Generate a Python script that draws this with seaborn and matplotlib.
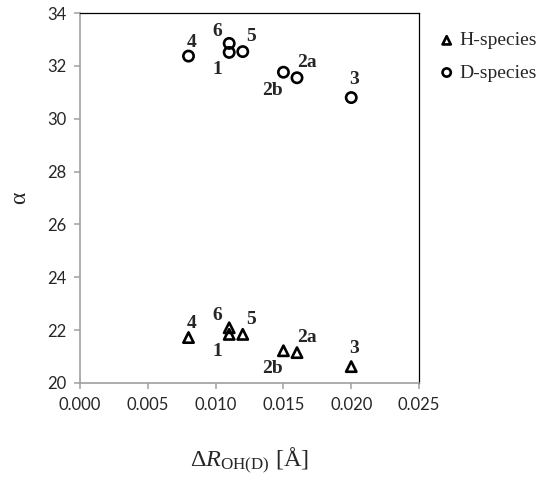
import seaborn as sns
import matplotlib.pyplot as plt
import pandas as pd

# structures, labels and positions
labels = ['4', '6', '1', '5', '2b', '2a', '3']
dR = [0.008, 0.011, 0.011, 0.012, 0.015, 0.016, 0.020]
alpha_H = [21.72, 22.09, 21.84, 21.84, 21.22, 21.15, 20.62]
alpha_D = [32.37, 32.85, 32.51, 32.54, 31.76, 31.55, 30.80]

# label offsets in pixels (dx, dy) relative to the marker
offsets = {'4': (3, 14), '6': (-12, 12), '1': (-12, -17), '5': (8, 15),
           '2b': (-11, -18), '2a': (10, 15), '3': (3, 18)}

df = pd.DataFrame({
    'dR': dR * 2,
    'alpha': alpha_H + alpha_D,
    'species': ['H-species'] * len(dR) + ['D-species'] * len(dR),
    'label': labels * 2,
})

sns.set_style('white')
plt.rcParams['mathtext.fontset'] = 'custom'
plt.rcParams['mathtext.rm'] = 'Liberation Serif'
plt.rcParams['mathtext.it'] = 'Liberation Serif:italic'

fig = plt.figure(figsize=(5.5, 4.82), dpi=100)
ax = fig.add_axes([0.1455, 0.2054, 0.6164, 0.7676])

marks = {'H-species': '^', 'D-species': 'o'}
for sp in ['H-species', 'D-species']:
    sub = df[df['species'] == sp]
    sns.scatterplot(data=sub, x='dR', y='alpha', marker=marks[sp], s=55,
                    facecolor='none', edgecolor='black', linewidth=1.9,
                    label=sp, ax=ax)
    for _, r in sub.iterrows():
        ox, oy = offsets[r['label']]
        ax.annotate(r['label'], (r['dR'], r['alpha']), xytext=(ox, oy),
                    textcoords='offset pixels', ha='center', va='center',
                    family='Liberation Serif', fontweight='bold', fontsize=14)

ax.set_xlim(0, 0.025)
ax.set_ylim(20, 34)
ax.set_xticks([0.000, 0.005, 0.010, 0.015, 0.020, 0.025])
ax.set_xticklabels(['0.000', '0.005', '0.010', '0.015', '0.020', '0.025'])
ax.set_yticks(range(20, 35, 2))

for s in ['left', 'bottom']:
    ax.spines[s].set_color('#a0a0a0')
    ax.spines[s].set_linewidth(1.2)
for s in ['top', 'right']:
    ax.spines[s].set_color('black')
    ax.spines[s].set_linewidth(0.9)

ax.tick_params(axis='both', direction='out', length=4, width=1.1,
               color='#a0a0a0', labelsize=12, pad=6)
for t in ax.get_xticklabels() + ax.get_yticklabels():
    t.set_family('Lato')
ax.tick_params(axis='x', bottom=True)
ax.tick_params(axis='y', left=True)

ax.set_ylabel('α', family='Liberation Serif', fontsize=17, labelpad=12)
ax.set_xlabel('Δ$\\mathit{R}_{\\mathrm{OH(D)}}$ [Å]', family='Liberation Serif',
              fontsize=17.5, labelpad=24)

ax.legend(loc='upper left', bbox_to_anchor=(0.798, 0.934),
          bbox_transform=fig.transFigure, frameon=False,
          prop={'family': 'Liberation Serif', 'size': 14},
          markerscale=0.8, borderpad=0,
          handletextpad=0.23, handlelength=0.8, labelspacing=0.75, borderaxespad=0)

fig.savefig('out.png', dpi=100)
